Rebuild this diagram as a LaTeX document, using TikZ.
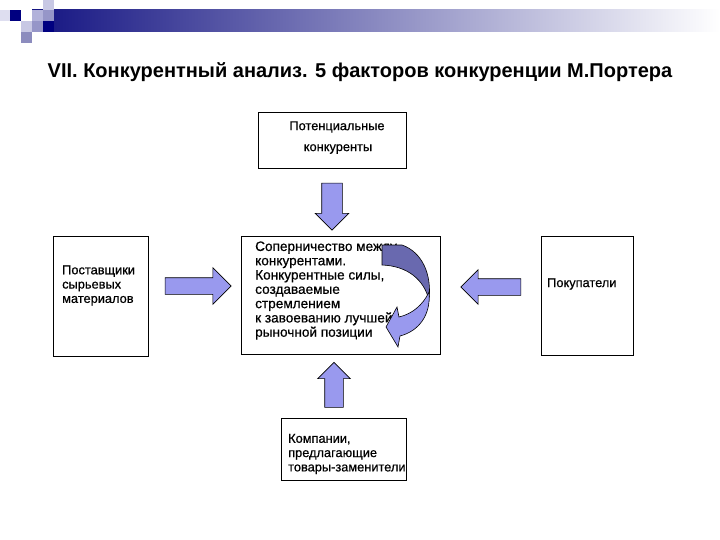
\documentclass[tikz,border=0pt]{standalone}
\usepackage{fontspec}
\setmainfont{Liberation Sans}
\newfontfamily\boxfont[FakeBold=0.6]{Liberation Sans}
\usetikzlibrary{shapes.arrows}
\definecolor{navy}{RGB}{20,20,130}
\definecolor{arrowfill}{RGB}{153,153,238}
\definecolor{arrowdark}{RGB}{105,105,175}
\definecolor{sqA}{RGB}{0,0,128}
\definecolor{sqB}{RGB}{200,200,228}
\definecolor{sqC}{RGB}{178,178,218}
\definecolor{sqD}{RGB}{150,150,200}
\definecolor{sqE}{RGB}{140,140,190}
\definecolor{sqF}{RGB}{222,222,240}
\begin{document}
\begin{tikzpicture}[x=1pt,y=-1pt,
  box/.style={draw=black,line width=0.8pt,fill=white,inner sep=0,anchor=north west},
  txt/.style={inner sep=0,anchor=west,align=left,font=\boxfont\fontsize{12.8}{14.3}\selectfont},
  ctxt/.style={inner sep=0,anchor=west,align=left,font=\boxfont\fontsize{13.6}{14.3}\selectfont},
  blockarrow/.style={single arrow,draw=black,line width=0.6pt,fill=arrowfill,inner xsep=0,
    single arrow head indent=0,single arrow tip angle=90}]
\useasboundingbox (0,0) rectangle (720,540);
\fill[white] (0,0) rectangle (720,540);
% title bar
\shade[left color=navy,right color=white] (32,10) rectangle (720,32);
\fill[sqF] (0,10) rectangle (10,21);
\fill[sqA] (10,10) rectangle (21,21);
\fill[sqB] (43,0) rectangle (54,10);
\fill[sqC] (32,10) rectangle (43,21);
\fill[sqD] (43,10) rectangle (54,21);
\fill[sqB] (21,21) rectangle (32,32);
\fill[sqD] (32,21) rectangle (43,32);
\fill[sqA] (43,21) rectangle (54,32);
\fill[sqE] (21,32) rectangle (32,43);
% title
\node[inner sep=0,font=\bfseries\fontsize{20}{23}\selectfont] (title) at (360,72)
  {VII. Конкурентный анализ. 5 факторов конкуренции М.Портера};
% boxes
\node[box,minimum width=148,minimum height=56] (top) at (258,112) {};
\node[box,minimum width=95,minimum height=120] (left) at (53,236) {};
\node[box,minimum width=199,minimum height=118] (center) at (241,236) {};
\node[box,minimum width=92,minimum height=119] (right) at (541,236) {};
\node[box,minimum width=125,minimum height=62] (bottom) at (281,418) {};
% texts
\node[txt,anchor=center] (t1) at (337,127) {Потенциальные};
\node[txt,anchor=center] (t2) at (338,149) {конкуренты};
\node[txt] (tl) at (62,285.5) {Поставщики\\сырьевых\\материалов};
\node[ctxt] (tc) at (255,290.5) {Соперничество между\\конкурентами.\\Конкурентные силы,\\создаваемые\\стремлением\\к завоеванию лучшей\\рыночной позиции};
\node[txt] (tr) at (547,284) {Покупатели};
\node[txt] (tb) at (288,454) {Компании,\\предлагающие\\товары-заменители};
% curved arrow
\filldraw[fill=arrowdark,draw=black,line width=0.6pt]
  (382,245) -- (402,245) .. controls (422,252) and (432,274) .. (429,300)
  .. controls (424,280) and (408,266) .. (382,265) -- cycle;
\filldraw[fill=arrowfill,draw=black,line width=0.6pt]
  (429,292) .. controls (431,315) and (419,331) .. (400,336) -- (398,347) -- (386,327)
  -- (397,307) -- (399,317) .. controls (412,314) and (423,305) .. (429,292) -- cycle;
% block arrows
\node[blockarrow,minimum height=66,inner ysep=8,single arrow head extend=10] (aL) at (194,286) {};
\node[blockarrow,minimum height=60,inner ysep=8,single arrow head extend=9,rotate=180] (aR) at (495,287) {};
\node[blockarrow,minimum height=47,inner ysep=10,single arrow head extend=6.5,rotate=-90] (aT) at (332,201.5) {};
\node[blockarrow,minimum height=45,inner ysep=9,single arrow head extend=7,rotate=90] (aB) at (334,389.5) {};
\end{tikzpicture}
\end{document}
